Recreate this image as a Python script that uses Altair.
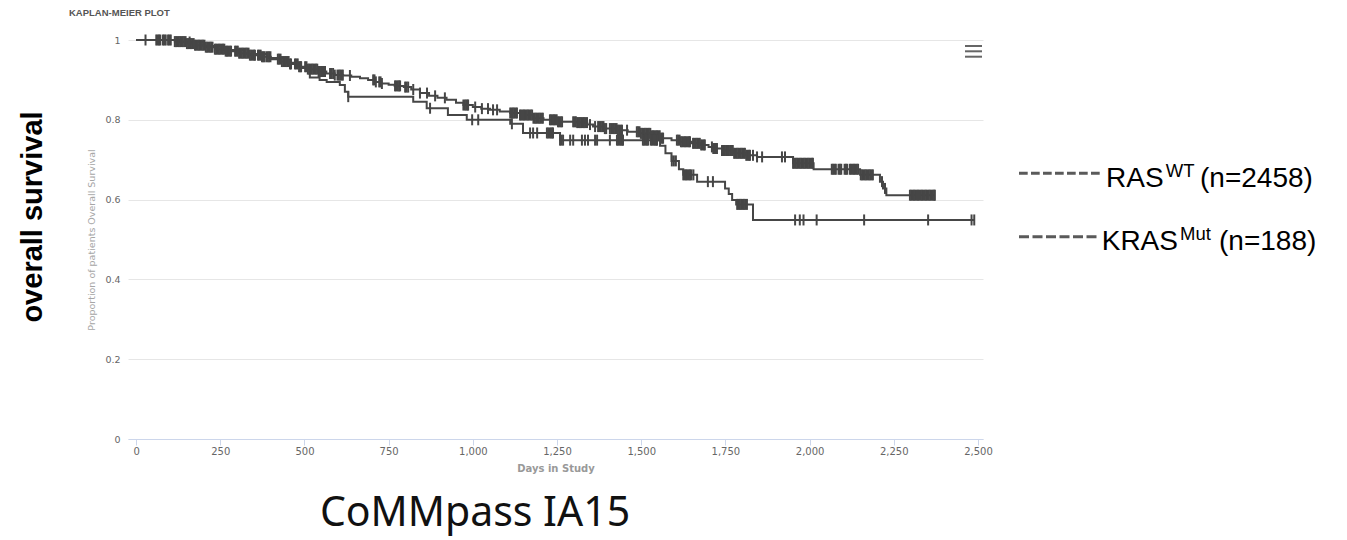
import altair as alt
import pandas as pd

# ---------------- data ----------------
# RAS wild-type: Kaplan-Meier step points (days, survival)
wt_days = [0, 115, 150, 175, 205, 234, 265, 303, 335, 371, 400, 430, 455, 481, 510,
           540, 565, 590, 615, 639, 665, 689, 710, 728, 750, 768, 795, 817, 843, 870,
           895, 922, 950, 972, 1000, 1025, 1051, 1080, 1111, 1140, 1179, 1210, 1250,
           1309, 1340, 1357, 1390, 1428, 1460, 1496, 1530, 1556, 1590, 1615, 1650,
           1675, 1700, 1713, 1740, 1773, 1810, 1844, 1951, 2012, 2150, 2209, 2218,
           2228, 2372]
wt_surv = [1.0, 0.996, 0.991, 0.987, 0.982, 0.977, 0.972, 0.967, 0.962, 0.958, 0.952,
           0.946, 0.940, 0.933, 0.927, 0.921, 0.916, 0.912, 0.911, 0.908, 0.904, 0.900,
           0.895, 0.891, 0.888, 0.885, 0.882, 0.876, 0.867, 0.860, 0.855, 0.850, 0.843,
           0.837, 0.832, 0.828, 0.825, 0.821, 0.817, 0.812, 0.804, 0.800, 0.795, 0.793,
           0.788, 0.783, 0.778, 0.774, 0.770, 0.766, 0.760, 0.754, 0.749, 0.745, 0.741,
           0.737, 0.732, 0.728, 0.723, 0.716, 0.711, 0.707, 0.691, 0.676, 0.662, 0.645,
           0.628, 0.611, 0.611]

# KRAS mutant: Kaplan-Meier step points
kras_days = [0, 130, 200, 260, 320, 390, 445, 490, 516, 545, 566, 605, 620, 630, 823,
             863, 926, 982, 1111, 1149, 1259, 1556, 1572, 1590, 1612, 1625, 1666, 1749,
             1760, 1770, 1782, 1832, 2489]
kras_surv = [1.0, 0.995, 0.985, 0.975, 0.965, 0.955, 0.943, 0.930, 0.906, 0.900, 0.895,
             0.887, 0.870, 0.858, 0.845, 0.829, 0.812, 0.800, 0.790, 0.767, 0.749, 0.735,
             0.716, 0.697, 0.676, 0.662, 0.645, 0.628, 0.614, 0.599, 0.588, 0.549, 0.549]

# censored observations (days)
wt_censor = [28, 60, 64, 68, 72, 80, 84, 88, 95, 99, 103,
             115, 119, 123, 127, 131, 135, 139, 143, 147, 151, 155, 159, 163, 167, 171,
             175, 179, 183, 187, 191, 195, 199, 203, 207, 211, 215, 219, 223, 227,
             234, 238, 242, 246, 250, 254, 258, 262, 266, 270, 274, 278, 282,
             294, 298, 302, 306, 310, 314, 318, 322, 326, 330, 334, 338, 342, 346, 350, 353,
             362, 366, 370, 374, 378, 381, 387, 391, 395, 399,
             421, 425, 429, 433, 437, 441, 445, 449, 453, 457, 460,
             472, 476, 480, 484, 488, 490,
             502, 506, 510, 514, 518, 522, 526, 530, 534, 538, 542, 546, 550, 554, 558, 561,
             576, 580, 585, 590, 598, 602, 606, 610, 614, 635,
             704, 708, 712, 722, 726, 730, 769, 773, 777, 781, 784, 799, 803, 808,
             823, 843, 864, 888, 917, 972, 976, 980, 984, 986,
             1007, 1027, 1045, 1060, 1072, 1111, 1115, 1119, 1123, 1127, 1131,
             1140, 1144, 1148, 1152, 1156, 1160, 1164, 1168, 1172, 1176, 1180, 1184, 1188,
             1192, 1196, 1200, 1204, 1208,
             1229, 1233, 1237, 1241, 1245, 1249, 1253, 1257, 1261, 1265,
             1298, 1302, 1306, 1310, 1314, 1318, 1322, 1326, 1330, 1334, 1339, 1348, 1363,
             1372, 1376, 1380, 1384, 1388, 1392, 1396,
             1407, 1411, 1415, 1419, 1423, 1427, 1431, 1435, 1439, 1443, 1458,
             1487, 1491, 1495, 1499, 1503, 1507, 1511, 1515, 1519, 1523, 1527, 1531, 1535,
             1539, 1543, 1547, 1551, 1555, 1559, 1563, 1565,
             1606, 1610, 1614, 1618, 1622, 1626, 1630, 1634, 1638, 1642, 1645,
             1654, 1658, 1662, 1666, 1670, 1674, 1678, 1682, 1686, 1689, 1710, 1714, 1718,
             1722, 1725,
             1740, 1744, 1748, 1752, 1756, 1760, 1764, 1768, 1772, 1776, 1780, 1784, 1788,
             1792, 1796, 1800, 1804, 1808, 1812, 1816, 1820, 1823, 1832, 1844, 1859,
             1918, 1927,
             1951, 1955, 1959, 1963, 1967, 1971, 1975, 1979, 1983, 1987, 1991, 1995, 1999,
             2003, 2007, 2010,
             2066, 2070, 2074, 2078, 2086, 2090, 2094, 2104, 2108, 2112, 2120, 2124, 2128,
             2132, 2136, 2140, 2144,
             2152, 2156, 2160, 2164, 2168, 2172, 2176, 2180, 2184, 2188, 2215, 2224,
             2298, 2302, 2306, 2310, 2314, 2318, 2322, 2326, 2330, 2334, 2338, 2342, 2346,
             2350, 2354, 2358, 2362, 2366, 2370, 2372]

kras_censor = [159, 630, 873, 998, 1016, 1116, 1170, 1179, 1191, 1220, 1224, 1228, 1232,
               1236, 1238, 1259, 1263, 1268, 1289, 1298, 1324, 1333, 1342, 1363, 1369,
               1407, 1428, 1432, 1436, 1440, 1444, 1446, 1505, 1509, 1513, 1517, 1521,
               1529, 1533, 1537, 1541, 1545, 1547,
               1591, 1597, 1603, 1625, 1629, 1633, 1637, 1641, 1645, 1649, 1655, 1698, 1713,
               1785, 1789, 1793, 1797, 1801, 1805, 1809, 1814,
               1957, 1971, 1982, 2021, 2162, 2352, 2481, 2489]

x_ticks = [0, 250, 500, 750, 1000, 1250, 1500, 1750, 2000, 2250, 2500]
y_ticks = [0, 0.2, 0.4, 0.6, 0.8, 1]

# ---------------- tables ----------------
curves = pd.concat([
    pd.DataFrame({"day": wt_days, "surv": wt_surv, "grp": "RAS WT"}),
    pd.DataFrame({"day": kras_days, "surv": kras_surv, "grp": "KRAS Mut"}),
], ignore_index=True)


def censor_table(days, cd, cs, grp):
    steps = pd.DataFrame({"day": cd, "surv": cs}).sort_values("day")
    c = pd.DataFrame({"day": sorted(days)})
    m = pd.merge_asof(c, steps, on="day", direction="backward")
    m["grp"] = grp
    return m


censors = pd.concat([
    censor_table(wt_censor, wt_days, wt_surv, "RAS WT"),
    censor_table(kras_censor, kras_days, kras_surv, "KRAS Mut"),
], ignore_index=True)

CURVE = "#464646"

x_enc = alt.X("day:Q",
              scale=alt.Scale(domain=[-24, 2515], nice=False, zero=False),
              axis=alt.Axis(values=x_ticks, format=",.0f", title="Days in Study",
                            grid=False, tickSize=6, tickColor="#ccd6eb",
                            domainColor="#ccd6eb", labelColor="#666666",
                            labelFont="DejaVu Sans", labelFontSize=10, labelPadding=1,
                            titleColor="#999999", titleFont="DejaVu Sans",
                            titleFontWeight="bold", titleFontSize=10, titlePadding=7))
y_enc = alt.Y("surv:Q",
              scale=alt.Scale(domain=[0, 1], nice=False),
              axis=alt.Axis(values=y_ticks, format="~g",
                            title="Proportion of patients Overall Survival",
                            grid=True, gridColor="#e6e6e6", domain=False, ticks=False,
                            labelColor="#666666", labelFont="DejaVu Sans",
                            labelFontSize=9.5, labelPadding=8,
                            titleColor="#a6a6a6", titleFont="DejaVu Sans",
                            titleFontWeight="normal", titleFontSize=9.5, titlePadding=8))

lines = alt.Chart(curves).mark_line(interpolate="step-after", strokeWidth=2,
                                    color=CURVE).encode(x=x_enc, y=y_enc, detail="grp:N")
ticks = alt.Chart(censors).mark_tick(orient="vertical", size=11, thickness=2,
                                     opacity=1, color=CURVE).encode(
    x="day:Q", y="surv:Q", detail="grp:N")


def label(text, x, y, size, font="Liberation Sans", weight="normal", color="#000000",
          align="left", angle=0):
    return alt.Chart(pd.DataFrame({"t": [text]})).mark_text(
        font=font, fontSize=size, fontWeight=weight, color=color, align=align,
        baseline="alphabetic", angle=angle
    ).encode(x=alt.value(x), y=alt.value(y), text="t:N")


title = label("KAPLAN-MEIER PLOT", -59, -24.3, 9.5, weight="bold", color="#555555")
side = label("overall survival", -86, 177, 29, weight="bold", color="#000000",
             align="center", angle=270)
bottom = label("CoMMpass IA15", 347, 486, 41, font="Noto Sans", color="#111111",
               align="center")

leg1a = label("RAS", 978, 146.7, 28)
leg1b = label("WT", 1037.7, 136.5, 18.5)
leg1c = label("(n=2458)", 1072, 146.7, 28)
leg2a = label("KRAS", 973.7, 210, 28)
leg2b = label("Mut", 1052, 200, 18.5)
leg2c = label("(n=188)", 1091, 210, 28)

dash_df = pd.DataFrame({"k": [0]})
dash1 = alt.Chart(dash_df).mark_rule(color="#5a5a5a", strokeWidth=3,
                                     strokeDash=[8.7, 3.3]).encode(
    x=alt.value(891), x2=alt.value(972), y=alt.value(133.3))
dash2 = alt.Chart(dash_df).mark_rule(color="#5a5a5a", strokeWidth=3,
                                     strokeDash=[10, 3.5]).encode(
    x=alt.value(891), x2=alt.value(969), y=alt.value(196.7))

menu = [alt.Chart(dash_df).mark_rule(color="#666666", strokeWidth=2).encode(
    x=alt.value(837), x2=alt.value(854), y=alt.value(yy)) for yy in (6, 11.3, 16.7)]

chart = alt.layer(
    lines, ticks, title, side, bottom,
    leg1a, leg1b, leg1c, leg2a, leg2b, leg2c, dash1, dash2, *menu
).properties(
    width=855, height=399,
    padding={"left": 120, "top": 32, "right": 350, "bottom": 100},
    autosize=alt.AutoSizeParams(type="none"),
    background="white",
).configure_view(strokeWidth=0)

chart.save("out.html", embed_options={"renderer": "svg", "actions": False})
